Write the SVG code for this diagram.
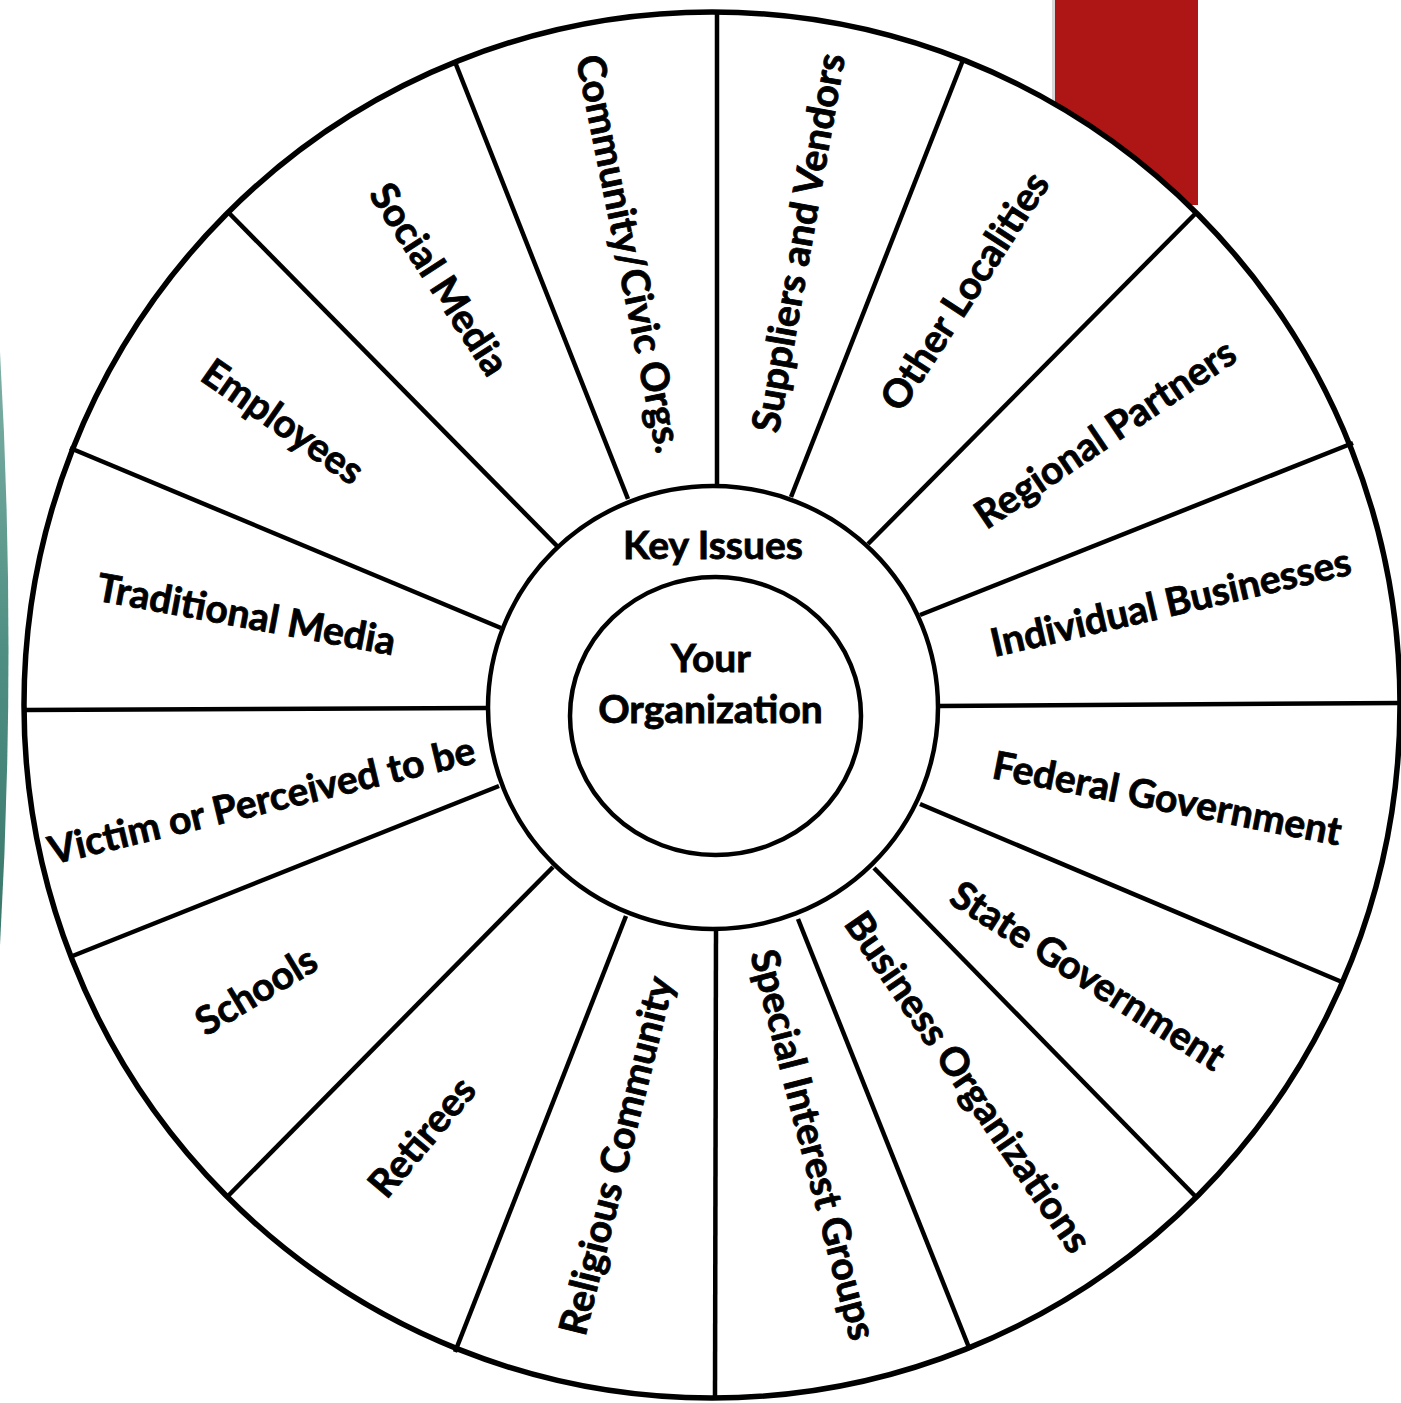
<svg xmlns="http://www.w3.org/2000/svg" width="1401" height="1403" viewBox="0 0 1401 1403">
<defs>
<linearGradient id="teal" x1="0" y1="0" x2="0" y2="1">
<stop offset="0" stop-color="#7fb0a6"/>
<stop offset="0.5" stop-color="#4f8f83"/>
<stop offset="1" stop-color="#3a776b"/>
</linearGradient>
</defs>
<style>
.ring{fill:#fff;stroke:#000;stroke-width:4.5}
.outer{fill:#fff;stroke:#000;stroke-width:5.5}
.spoke{stroke:#000;stroke-width:4.5;fill:none}
.lbl{font-family:Lato,"Open Sans","Liberation Sans",sans-serif;font-weight:bold;font-size:39px;fill:#000;stroke:#000;stroke-width:0.8;text-anchor:middle}
</style>
<rect width="1401" height="1403" fill="#fff"/>
<g id="decor">
<path d="M0,352 Q17,650 0,945 Z" fill="url(#teal)"/>
<rect x="1052" y="0" width="4" height="205" fill="#d8d8d8"/>
<rect x="1055" y="0" width="143" height="205" fill="#ae1616"/>
</g>
<g id="wheel">
<ellipse class="outer" cx="712" cy="705" rx="688" ry="693"/>
</g>
<g id="connectors">
<line class="spoke" x1="717" y1="12" x2="717" y2="487"/>
<line class="spoke" x1="455" y1="62" x2="628" y2="499"/>
<line class="spoke" x1="228" y1="212" x2="558" y2="547"/>
<line class="spoke" x1="70" y1="448" x2="501" y2="628"/>
<line class="spoke" x1="24" y1="710" x2="488" y2="708"/>
<line class="spoke" x1="70" y1="957" x2="499" y2="786"/>
<line class="spoke" x1="228" y1="1196" x2="553" y2="867"/>
<line class="spoke" x1="455" y1="1352" x2="626" y2="916"/>
<line class="spoke" x1="715" y1="1398" x2="716" y2="930"/>
<line class="spoke" x1="970" y1="1350" x2="798" y2="919"/>
<line class="spoke" x1="1197" y1="1198" x2="874" y2="868"/>
<line class="spoke" x1="1342" y1="982" x2="920" y2="804"/>
<line class="spoke" x1="1401" y1="703" x2="938" y2="706"/>
<line class="spoke" x1="1353" y1="443" x2="920" y2="615"/>
<line class="spoke" x1="1197" y1="212" x2="868" y2="544"/>
<line class="spoke" x1="963" y1="60" x2="791" y2="497"/>
</g>
<g id="key-issues">
<ellipse class="ring" cx="713" cy="707.5" rx="225" ry="221.5"/>
<text class="lbl" x="713" y="559">Key Issues</text>
</g>
<g id="your-organization">
<ellipse class="ring" cx="715.5" cy="716" rx="145.5" ry="139"/>
<text class="lbl" x="711" y="672">Your</text>
<text class="lbl" x="710.5" y="723">Organization</text>
</g>
<g id="community-civic"><text class="lbl" transform="translate(628 254) rotate(78.5)" y="12">Community/Civic Orgs.</text></g>
<g id="suppliers"><text class="lbl" transform="translate(800 243) rotate(-80)" y="12">Suppliers and Vendors</text></g>
<g id="other-localities"><text class="lbl" transform="translate(966 292) rotate(-57)" y="12">Other Localities</text></g>
<g id="regional-partners"><text class="lbl" transform="translate(1106 435) rotate(-34)" y="12">Regional Partners</text></g>
<g id="individual-businesses"><text class="lbl" transform="translate(1171 604) rotate(-13)" y="12">Individual Businesses</text></g>
<g id="federal-government"><text class="lbl" transform="translate(1167 800) rotate(11)" y="12">Federal Government</text></g>
<g id="state-government"><text class="lbl" transform="translate(1087 977) rotate(32.5)" y="12">State Government</text></g>
<g id="business-organizations"><text class="lbl" transform="translate(967 1083) rotate(55.5)" y="12">Business Organizations</text></g>
<g id="special-interest"><text class="lbl" transform="translate(812 1145) rotate(75.5)" y="12">Special Interest Groups</text></g>
<g id="religious-community"><text class="lbl" transform="translate(618 1156) rotate(-76)" y="12">Religious Community</text></g>
<g id="retirees"><text class="lbl" transform="translate(423 1138) rotate(-50)" y="12">Retirees</text></g>
<g id="schools"><text class="lbl" transform="translate(257 992) rotate(-31)" y="12">Schools</text></g>
<g id="victim"><text class="lbl" transform="translate(262 802) rotate(-13.5)" y="12">Victim or Perceived to be</text></g>
<g id="traditional-media"><text class="lbl" transform="translate(246 616) rotate(10.5)" y="12">Traditional Media</text></g>
<g id="employees"><text class="lbl" transform="translate(282 423) rotate(35)" y="12">Employees</text></g>
<g id="social-media"><text class="lbl" transform="translate(438 280) rotate(57)" y="12">Social Media</text></g>
</svg>
